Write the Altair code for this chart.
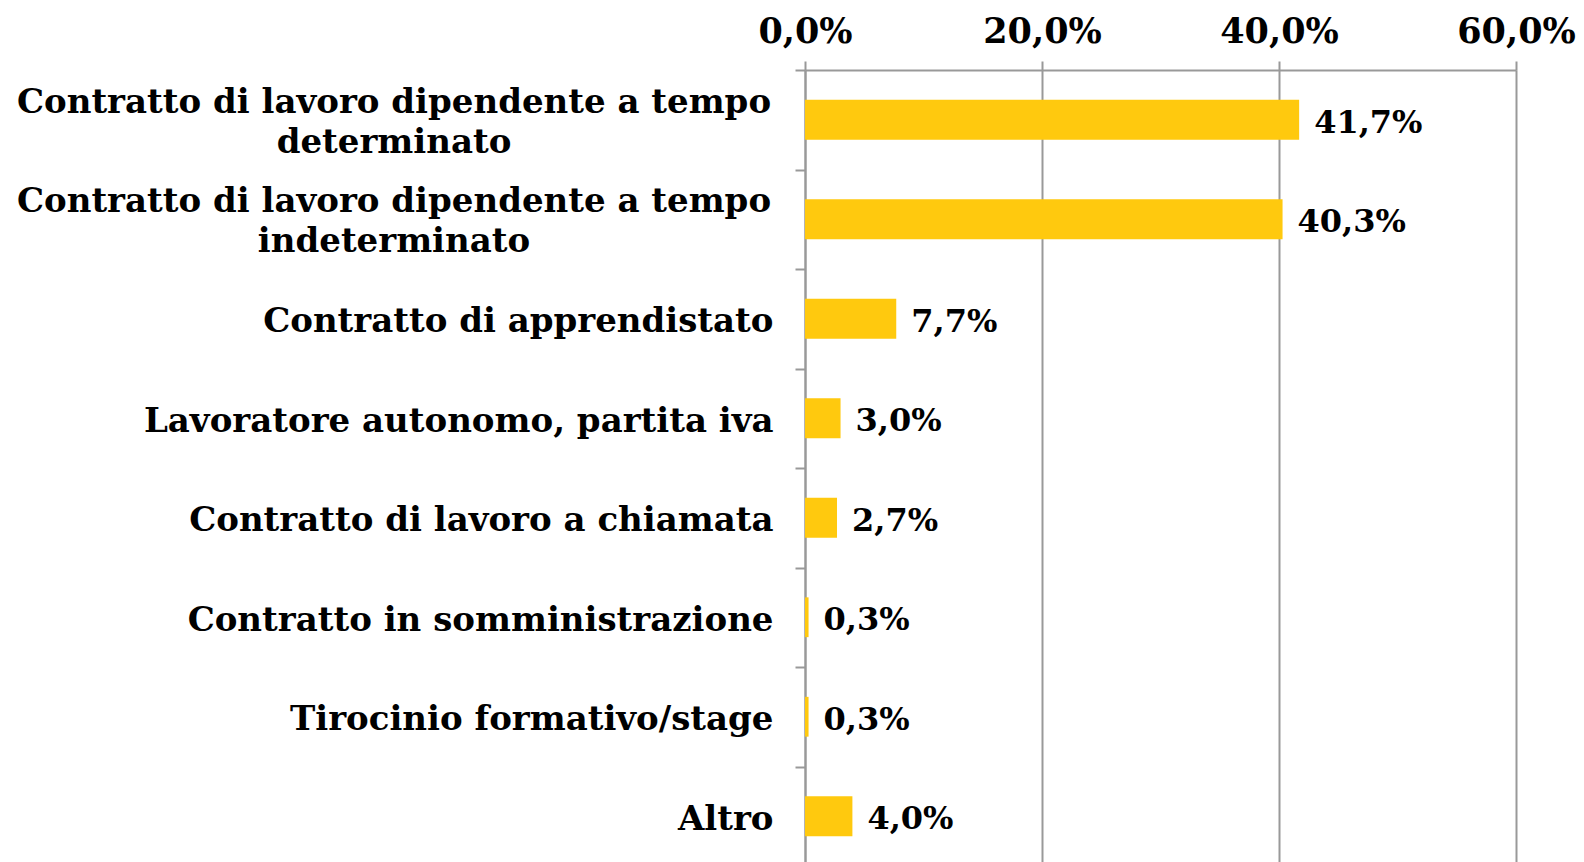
import altair as alt
import pandas as pd

categories = [
    "Contratto di lavoro dipendente a tempo|determinato",
    "Contratto di lavoro dipendente a tempo|indeterminato",
    "Contratto di apprendistato",
    "Lavoratore autonomo, partita iva",
    "Contratto di lavoro a chiamata",
    "Contratto in somministrazione",
    "Tirocinio formativo/stage",
    "Altro",
]
percent = [41.7, 40.3, 7.7, 3.0, 2.7, 0.3, 0.3, 4.0]
x_ticks = [0, 0.2, 0.4, 0.6]

df = pd.DataFrame({"cat": categories, "pct": percent})

FONT = "DejaVu Serif"
GRAY = "#999999"
BAR = "#FFC90E"

base = alt.Chart(df).transform_calculate(frac="datum.pct / 100")

y_enc = alt.Y(
    "cat:N",
    sort=None,
    scale=alt.Scale(paddingInner=0, paddingOuter=0),
    axis=alt.Axis(
        title=None,
        labelExpr="indexof(datum.label, '|') >= 0 ? '' : datum.label",
        labelFont=FONT,
        labelFontWeight="bold",
        labelFontSize=34,
        labelColor="black",
        labelPadding=22,
        labelOffset=3,
        labelLimit=900,
        tickBand="extent",
        tickSize=10,
        tickColor=GRAY,
        tickWidth=2,
        domainColor=GRAY,
        domainWidth=2,
        grid=False,
    ),
)

x_enc = alt.X(
    "frac:Q",
    scale=alt.Scale(domain=[0, 0.6], nice=False),
    axis=alt.Axis(
        orient="top",
        title=None,
        values=x_ticks,
        labelExpr="replace(format(datum.value, '.1%'), '.', ',')",
        labelFont=FONT,
        labelFontWeight="bold",
        labelFontSize=35,
        labelColor="black",
        labelBaseline="alphabetic",
        labelPadding=19,
        tickSize=9,
        tickColor=GRAY,
        tickWidth=2,
        domainColor=GRAY,
        domainWidth=2,
        grid=True,
        gridColor=GRAY,
        gridWidth=2,
        labelFlush=False,
    ),
)

bars = base.mark_bar(color=BAR, height=alt.RelativeBandSize(0.4)).encode(y=y_enc, x=x_enc)

values = base.transform_calculate(
    lbl="replace(format(datum.pct / 100, '.1%'), '.', ',')"
).mark_text(
    align="left", baseline="middle", dx=15, dy=3, font=FONT, fontWeight="bold", fontSize=32, color="black"
).encode(y=alt.Y("cat:N", sort=None), x="frac:Q", text="lbl:N")

wrapped = base.transform_filter("indexof(datum.cat, '|') >= 0").transform_calculate(
    lines="split(datum.cat, '|')"
).mark_text(
    align="center", baseline="middle", dy=-17, font=FONT, fontWeight="bold", fontSize=34,
    lineHeight=40, color="black"
).encode(y=alt.Y("cat:N", sort=None), x=alt.value(-411), text="lines:N")

chart = (
    alt.layer(bars, values, wrapped)
    .properties(
        width=711,
        height=796,
        autosize=alt.AutoSizeParams(type="none"),
        padding={"left": 797, "top": 62, "right": 60, "bottom": 0},
    )
    .configure_view(fill="#FCFCFC", stroke=None)
    .configure(background="white")
)

chart.save("out.html", embed_options={"renderer": "svg", "actions": False})
